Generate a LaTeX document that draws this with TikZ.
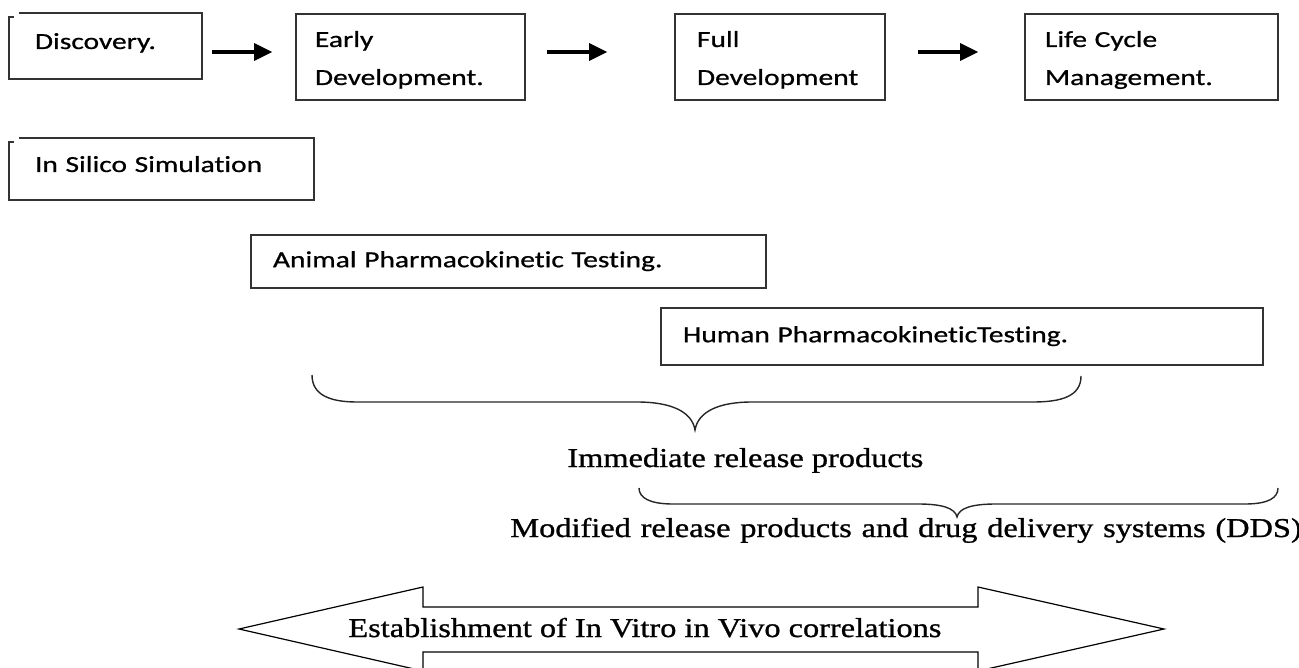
\documentclass[tikz,border=0pt]{standalone}
\usepackage{fontspec}
\usepackage{tikz}
\usetikzlibrary{calc,positioning,arrows.meta}
\newfontfamily\stagefont{Carlito}[FakeStretch=1.28, FakeBold=0.8, Ligatures={NoCommon}]
\newfontfamily\notefont{Liberation Serif}[FakeStretch=1.19, FakeBold=1]

\begin{document}
\begin{tikzpicture}[x=0.5pt, y=-0.5pt,
    stage/.style={draw=black!80, line width=0.8pt, align=left, inner ysep=0pt,
        font=\stagefont\fontsize{11.5pt}{19pt}\selectfont, text height=8pt, text depth=2.3pt},
    twoline/.style={text depth=18pt},
    topline/.style={draw=none, text depth=5pt},
    flow/.style={-{Triangle[length=9pt, width=8.5pt]}, line width=1.6pt},
    note/.style={font=\notefont\fontsize{13.6pt}{16pt}\selectfont, inner sep=0pt, anchor=base west},
    brace/.style={line width=0.7pt, black!85}]
    \useasboundingbox (0,0) rectangle (1299,668);
    \coordinate (rowy) at (0,52);
                % development stages
                \node (disc) [stage, topline, minimum width=90.5pt, minimum height=32pt, inner xsep=7.5pt, text width=75.5pt] at (110.5,46) {Discovery.};
                \node (early) [stage, twoline, minimum width=114.5pt, minimum height=43pt, inner xsep=9.5pt, text width=95.5pt] at (410.5,57) {Early\\Development.};
                \node (full) [stage, twoline, minimum width=105pt, minimum height=43pt, inner xsep=11pt, text width=83pt] at (780,57) {Full\\Development};
                \node (life) [stage, twoline, minimum width=126.5pt, minimum height=43pt, inner xsep=10pt, text width=106.5pt] at (1151.5,57) {Life Cycle\\Management.};
                \draw[flow, shorten <=5pt, shorten >=11.5pt] (disc.east |- rowy) -- (early.west |- rowy);
                \draw[flow, shorten <=10.5pt, shorten >=33.5pt] (early.east |- rowy) -- (full.west |- rowy);
                \draw[flow, shorten <=16pt, shorten >=23pt] (full.east |- rowy) -- (life.west |- rowy);
                % testing
                \node (silico) [stage, topline, minimum width=146.5pt, minimum height=30pt, inner xsep=7.5pt, text width=131.5pt] at (166.5,169) {In Silico Simulation};
                \node (animal) [stage, minimum width=257.5pt, minimum height=26.5pt, inner xsep=11pt, text width=235.5pt] at (508.5,261.5) {Animal Pharmacokinetic Testing.};
                \node (human) [stage, minimum width=301pt, minimum height=28.5pt, inner xsep=11pt, text width=279pt] at (962,336.5) {Human PharmacokineticTesting.};
                \draw[stage] (disc.north west) -- (disc.north east) -- (disc.south east) -- ([xshift=-5pt]disc.south west)
                    |- ([yshift=-2pt, xshift=-2.5pt]disc.north west);
                \draw[stage] (silico.north west) -- (silico.north east) -- (silico.south east) -- ([xshift=-5pt]silico.south west)
                    |- ([yshift=-2pt, xshift=-2.5pt]silico.north west);
                % braces
                \draw[brace] (312,375) .. controls (312,395) and (330,402) .. (357,402) -- (637,402)
                    .. controls (672,402) and (692,412) .. (695,430) .. controls (698,412) and (718,402) .. (752,402)
                    -- (1033,402) .. controls (1062,402) and (1081,396) .. (1081,376);
                \node (irp) [note] at (567,467) {Immediate release products};
                \draw[brace] (639,488) .. controls (639,498) and (650,504) .. (673,504) -- (918,504)
                    .. controls (942,504) and (955,508) .. (957,517) .. controls (959,508) and (972,504) .. (996,504)
                    -- (1245,504) .. controls (1268,504) and (1278,498) .. (1278,488);
                \node (mrp) [note] at (510,537) {\spaceskip=4.9pt Modified release products and drug delivery systems (DDS)};
                % ivivc
                \draw[line width=0.6pt] (239,629) -- (423,587) -- (423,607) -- (978,607) -- (978,587) -- (1164,629)
                    -- (978,671) -- (978,652) -- (423,652) -- (423,671) -- cycle;
                \node (ivivc) [note] at (348,637) {Establishment of In Vitro in Vivo correlations};
            \end{tikzpicture}
\end{document}
